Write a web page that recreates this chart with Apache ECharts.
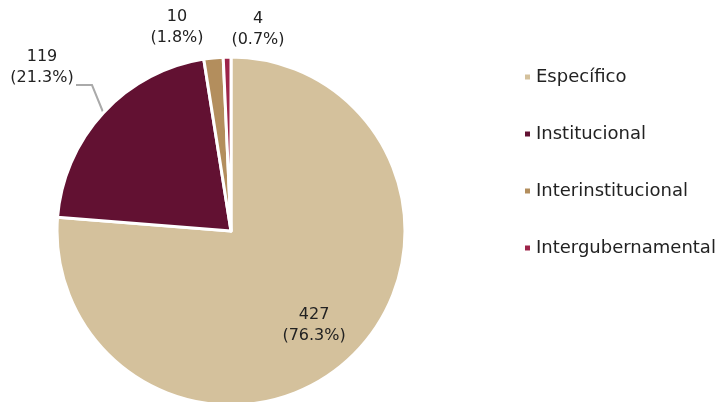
<!DOCTYPE html>
<html>
<head>
<meta charset="utf-8">
<script src="https://cdn.jsdelivr.net/npm/echarts@6/dist/echarts.min.js"></script>
<style>
  html, body { margin: 0; padding: 0; background: #fff; }
  #chart { width: 728px; height: 402px; }
</style>
</head>
<body>
<div id="chart"></div>
<script>
const categories = ['Específico', 'Institucional', 'Interinstitucional', 'Intergubernamental']
const values = [427, 119, 10, 4]
const colors = ['#D4C19C', '#621132', '#B38E5D', '#9D2449']

const total = values.reduce((a, b) => a + b, 0)
const font = 'DejaVu Sans'

const myChart = echarts.init(document.getElementById('chart'))

const option = {
    animation: false,
    legend: {
        orient: 'vertical',
        left: 518,
        top: 63,
        itemWidth: 7,
        itemHeight: 7,
        itemGap: 39,
        icon: 'rect',
        textStyle: { fontFamily: font, fontSize: 18, color: '#222' },
        data: categories
    },
    series: [{
        type: 'pie',
        center: [231, 231],
        radius: 174,
        startAngle: 90,
        clockwise: true,
        itemStyle: { borderColor: '#fff', borderWidth: 3 },
        label: {
            fontFamily: font,
            fontSize: 16,
            lineHeight: 21,
            color: '#222',
            align: 'center',
            overflow: 'none',
            formatter: p => p.value + '\n(' + (p.value / total * 100).toFixed(1) + '%)'
        },
        labelLine: { lineStyle: { color: '#aaa', width: 2 }, length: 20, length2: 15 },
        labelLayout: function (params) {
            // place outside labels the way the reference does
            const i = params.dataIndex
            if (i === 1) return { x: 42, y: 67, align: 'center', verticalAlign: 'middle', labelLinePoints: [[103, 112], [92, 85], [76, 85]] }
            if (i === 2) return { x: 177, y: 27, align: 'center', verticalAlign: 'middle' }
            if (i === 3) return { x: 258, y: 29, align: 'center', verticalAlign: 'middle' }
            return {}
        },
        data: categories.map((name, i) => {
            const d = { name: name, value: values[i], itemStyle: { color: colors[i] } }
            if (i === 0) {
                d.label = { position: 'inside', offset: [22, 28] }
                d.labelLine = { show: false }
            }
            if (i > 1) d.labelLine = { show: false }
            return d
        })
    }]
}

myChart.setOption(option)
</script>
</body>
</html>
